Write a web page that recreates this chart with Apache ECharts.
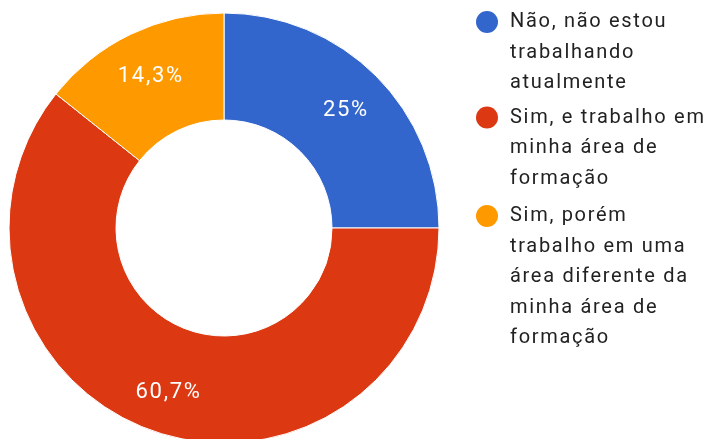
<!DOCTYPE html>
<html>
<head>
<meta charset="utf-8">
<script src="https://cdn.jsdelivr.net/npm/echarts@6/dist/echarts.min.js"></script>
<style>
  html, body { margin: 0; padding: 0; background: #fff; }
  #main { width: 707px; height: 439px; }
</style>
</head>
<body>
<div id="main"></div>
<script>
// categorias e respostas
const categories = [
  'Não, não estou trabalhando atualmente',
  'Sim, e trabalho em minha área de formação',
  'Sim, porém trabalho em uma área diferente da minha área de formação'
];
const counts = [7, 17, 4];
const colors = ['#3366cc', '#dc3912', '#ff9900'];
// quebras de linha da legenda
const legendLines = [
  ['Não, não estou', 'trabalhando', 'atualmente'],
  ['Sim, e trabalho em', 'minha área de', 'formação'],
  ['Sim, porém', 'trabalho em uma', 'área diferente da', 'minha área de', 'formação']
];
const legendTops = [6.75, 102.25, 200.75];

const LINE_H = 30.5;
const ICON_W = 29;

let myChart = echarts.init(document.getElementById('main'));

// ícone: círculo na altura da primeira linha, caixa do tamanho do bloco de texto
function legendIcon(n) {
  const h = n * LINE_H;
  const cy = LINE_H / 2;
  return 'path://M0 0L0 0M0 ' + cy + 'A11 11 0 1 1 22 ' + cy + 'A11 11 0 1 1 0 ' + cy + 'Z' +
    'M' + ICON_W + ' ' + h + 'L' + ICON_W + ' ' + h;
}

const legends = categories.map((name, i) => ({
  orient: 'vertical',
  left: 476,
  top: legendTops[i],
  padding: 0,
  itemWidth: ICON_W,
  itemHeight: legendLines[i].length * LINE_H,
  icon: legendIcon(legendLines[i].length),
  selectedMode: false,
  itemStyle: { borderWidth: 0 },
  textStyle: {
    fontFamily: 'Roboto',
    fontSize: 20,
    color: '#222',
    lineHeight: LINE_H
  },
  data: [name],
  formatter: function (n) {
    return legendLines[categories.indexOf(n)].join('\n');
  }
}));

myChart.setOption({
  animation: false,
  legend: legends,
  series: [
    {
      type: 'pie',
      center: [224, 228],
      radius: [108, 215],
      startAngle: 90,
      clockwise: true,
      silent: true,
      label: { show: false },
      labelLine: { show: false },
      itemStyle: { borderColor: '#fff', borderWidth: 1 },
      data: categories.map((name, i) => ({
        name: name,
        value: counts[i],
        itemStyle: { color: colors[i] }
      }))
    },
    {
      // série só para os rótulos de porcentagem
      type: 'pie',
      center: [224, 228],
      radius: [108, 228],
      startAngle: 90,
      clockwise: true,
      silent: true,
      percentPrecision: 1,
      itemStyle: { color: 'rgba(0,0,0,0)', borderWidth: 0 },
      label: {
        show: true,
        position: 'inside',
        color: '#fff',
        fontFamily: 'Roboto',
        fontSize: 22,
        offset: [1, 3],
        formatter: function (p) {
          return String(p.percent).replace('.', ',') + '%';
        }
      },
      labelLine: { show: false },
      data: categories.map((name, i) => ({ name: name, value: counts[i] }))
    }
  ]
});

// espaçamento entre letras como no gráfico original
document.querySelectorAll('#main canvas').forEach(function (c) {
  c.getContext('2d').letterSpacing = '1.7px';
});
myChart.getZr().painter.refresh(true);
</script>
</body>
</html>
